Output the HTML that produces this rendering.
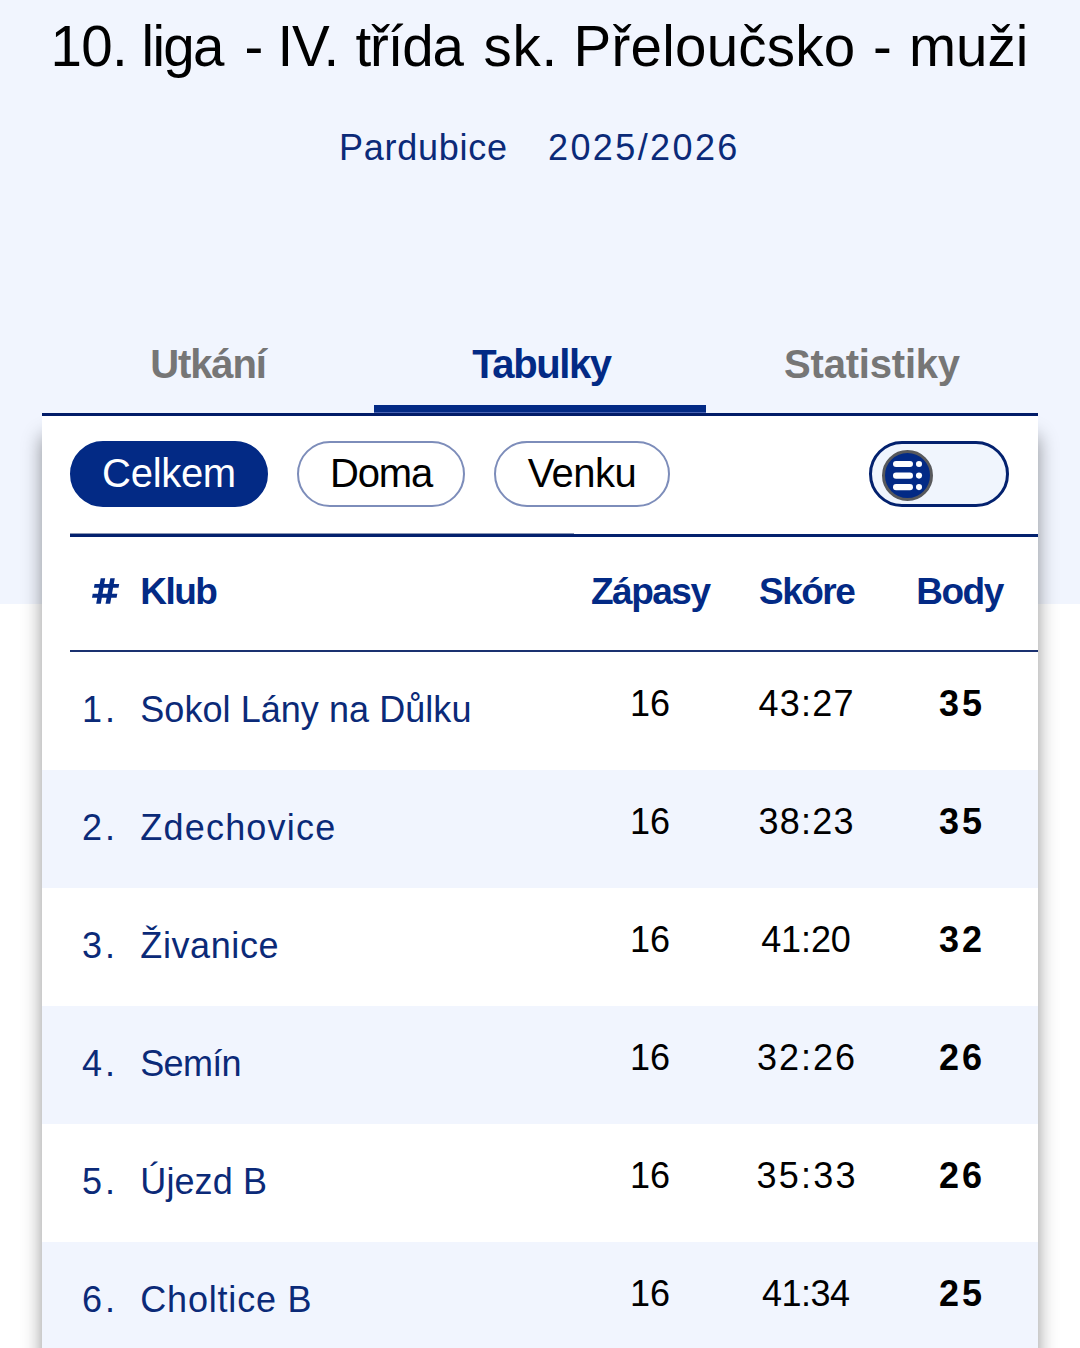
<!DOCTYPE html>
<html lang="cs">
<head>
<meta charset="utf-8">
<style>
*{margin:0;padding:0;box-sizing:border-box}
html,body{width:1080px;height:1348px;overflow:hidden;background:#fff}
body{font-family:"Liberation Sans",sans-serif;position:relative;color:#000}
.topbg{position:absolute;left:0;top:0;width:1080px;height:604px;background:#f1f5fe}
.abs{position:absolute;white-space:nowrap;line-height:1}
.tw{position:absolute;white-space:nowrap;line-height:1;top:18.8px;font-size:56.5px;color:#000}
#sub1{left:339px;top:129.7px;font-size:36px;color:#0b2a78;letter-spacing:0.75px}
#sub2{left:548px;top:129.5px;font-size:36px;color:#0b2a78;letter-spacing:2.4px}
.tab{top:344.3px;font-size:40px;font-weight:bold;width:332px;text-align:center}
#t1{left:42px;color:#767676;letter-spacing:-1.1px}
#t2{left:375.5px;color:#032a85;letter-spacing:-1.4px}
#t3{left:706px;color:#767676;letter-spacing:-0.2px}
#tabline{position:absolute;left:42px;top:413px;width:996px;height:3px;background:#021c68}
#tabgap{position:absolute;left:374px;top:412px;width:332px;height:1px;background:#4a64b4}
#tabactive{position:absolute;left:374px;top:405px;width:332px;height:7px;background:#032a85}
#card{position:absolute;left:42px;top:416px;width:996px;height:1000px;background:#fff;box-shadow:0 20px 18px rgba(0,0,0,0.42)}
.pill{position:absolute;top:441px;height:66px;border-radius:33px;font-size:40px;line-height:61px;text-align:center;border:2.5px solid #7d8dba;color:#000}
#p1{left:70px;width:198px;background:#032a85;border-color:#032a85;color:#fff;letter-spacing:-0.3px}
#p2{left:297px;width:168px;letter-spacing:-1.2px;line-height:61px}
#p3{left:494px;width:176px;letter-spacing:-0.5px;line-height:61px}
#toggle{position:absolute;left:869px;top:441px;width:140px;height:66px;border-radius:33px;border:3px solid #03216e;background:#f0f5fd}
#knob{position:absolute;left:882px;top:450px;width:51px;height:51px;border-radius:50%;background:#032a85;border:3px solid #58595c}
#knob svg{position:absolute;left:0;top:0}
#pillline{position:absolute;left:70px;top:534px;width:968px;height:3px;background:#03216e}
#pillline2{position:absolute;left:70px;top:533px;width:504px;height:1px;background:#8a96b4}
#hdrline{position:absolute;left:70px;top:650px;width:968px;height:2px;background:#1a3170}
.hd{top:573px;font-size:37px;font-weight:bold;color:#032a85}
.row{position:absolute;left:42px;width:996px;height:118.2px}
.row span{position:absolute;white-space:nowrap;line-height:1;font-size:36px}
.alt{background:#f1f5fe}
.rk{left:40px;top:40px;color:#0b2a78;letter-spacing:3px}
.nm{left:98.3px;top:40px;color:#0b2a78}
.num{top:34px;color:#000;text-align:center;width:160px}
.c1{left:528px}
.c2{left:684px;letter-spacing:0.7px}
.pt{left:840px;top:34px;color:#000;font-weight:bold;text-align:center;width:160px;letter-spacing:3px}
</style>
</head>
<body>
<div class="topbg"></div>
<span class="tw" style="left:50.4px;letter-spacing:-0.6px">10.</span>
<span class="tw" style="left:141.6px;letter-spacing:-1.7px">liga</span>
<span class="tw" style="left:244.4px;letter-spacing:0px">-</span>
<span class="tw" style="left:277.6px;letter-spacing:-1.2px">IV.</span>
<span class="tw" style="left:355.5px;letter-spacing:-1.15px">třída</span>
<span class="tw" style="left:483.6px;letter-spacing:0.7px">sk.</span>
<span class="tw" style="left:573.6px;letter-spacing:0.24px">Přeloučsko</span>
<span class="tw" style="left:872.9px;letter-spacing:0px">-</span>
<span class="tw" style="left:908.9px;letter-spacing:0px">muži</span>
<div class="abs" id="sub1">Pardubice</div>
<div class="abs" id="sub2">2025/2026</div>
<div class="abs tab" id="t1">Utkání</div>
<div class="abs tab" id="t2">Tabulky</div>
<div class="abs tab" id="t3">Statistiky</div>
<div id="card"></div>
<div id="tabline"></div>
<div id="tabactive"></div>
<div id="tabgap"></div>
<div class="pill" id="p1">Celkem</div>
<div class="pill" id="p2">Doma</div>
<div class="pill" id="p3">Venku</div>
<div id="toggle"></div>
<div id="knob"><svg width="45" height="45" viewBox="0 0 45 45"><g fill="#fff"><rect x="8" y="8" width="20" height="6.1" rx="3.05"/><rect x="8" y="19.6" width="20" height="6.1" rx="3.05"/><rect x="8" y="31.1" width="20" height="6.1" rx="3.05"/><circle cx="34" cy="11" r="3.05"/><circle cx="34" cy="22.6" r="3.05"/><circle cx="34" cy="34.1" r="3.05"/></g></svg></div>
<div id="pillline2"></div>
<div id="pillline"></div>
<svg id="h1" style="position:absolute;left:88px;top:574px" width="36" height="34" viewBox="0 0 36 34"><path fill="#032a85" d="M12.7 4.2H17.2L12.8 29.7H8.2Z M22.3 4.2H26.8L22.2 29.7H17.5Z M6.6 10H31.2L30.5 13.8H5.9Z M4.7 19.8H29.3L28.6 23.8H4Z"/></svg>
<div class="abs hd" id="h2" style="left:140.2px;letter-spacing:-1.5px">Klub</div>
<div class="abs hd" id="h3" style="left:591px;letter-spacing:-1.5px">Zápasy</div>
<div class="abs hd" id="h4" style="left:759px;letter-spacing:-1.5px">Skóre</div>
<div class="abs hd" id="h5" style="left:916.3px;letter-spacing:-1.5px">Body</div>
<div id="hdrline"></div>
<div class="row" style="top:651.5px"><span class="rk">1.</span><span class="nm" style="letter-spacing:0.05px">Sokol Lány na Důlku</span><span class="num c1">16</span><span class="num c2" style="letter-spacing:1.25px;left:684.62px">43:27</span><span class="pt">35</span></div>
<div class="row alt" style="top:769.6px"><span class="rk">2.</span><span class="nm" style="letter-spacing:1.2px">Zdechovice</span><span class="num c1">16</span><span class="num c2" style="letter-spacing:1.25px;left:684.62px">38:23</span><span class="pt">35</span></div>
<div class="row" style="top:887.8px"><span class="rk">3.</span><span class="nm" style="letter-spacing:0.6px">Živanice</span><span class="num c1">16</span><span class="num c2" style="letter-spacing:-0.1px;left:683.95px">41:20</span><span class="pt">32</span></div>
<div class="row alt" style="top:1006.0px"><span class="rk">4.</span><span class="nm" style="letter-spacing:-0.7px">Semín</span><span class="num c1">16</span><span class="num c2" style="letter-spacing:1.95px;left:684.98px">32:26</span><span class="pt">26</span></div>
<div class="row" style="top:1124.1px"><span class="rk">5.</span><span class="nm" style="letter-spacing:0.1px">Újezd B</span><span class="num c1">16</span><span class="num c2" style="letter-spacing:2.2px;left:685.10px">35:33</span><span class="pt">26</span></div>
<div class="row alt" style="top:1242.2px"><span class="rk">6.</span><span class="nm" style="letter-spacing:0.8px">Choltice B</span><span class="num c1">16</span><span class="num c2" style="letter-spacing:-0.55px;left:683.73px">41:34</span><span class="pt">25</span></div>
</body>
</html>
